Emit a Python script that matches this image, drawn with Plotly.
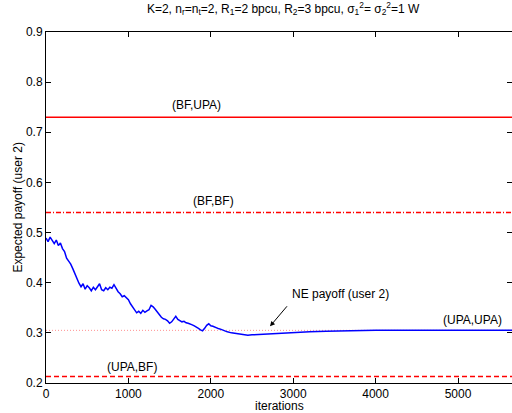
import plotly.graph_objects as go

iterations = [0, 25, 50, 75, 100, 125, 150, 175, 200, 225, 250, 275, 300, 325, 350, 375, 400, 425, 450, 475,
              500, 525, 550, 575, 600, 625, 650, 675, 700, 725, 750, 775, 800, 825, 850, 875, 900, 925, 950, 975,
              1000, 1025, 1050, 1075, 1100, 1125, 1150, 1175, 1200, 1225, 1250, 1275, 1300, 1325, 1350, 1375,
              1400, 1425, 1450, 1475, 1500, 1525, 1550, 1575, 1600, 1625, 1650, 1675, 1700, 1725, 1750, 1775,
              1800, 1825, 1850, 1875, 1900, 1925, 1950, 1975, 2000, 2025, 2050, 2075, 2100, 2125, 2150, 2175,
              2200, 2250, 2300, 2350, 2400, 2450, 2500, 2600, 2700, 2800, 2900, 3000, 3200, 3400, 3600, 3800,
              4000, 4500, 5000, 5700]
payoff_user2 = [0.489, 0.482, 0.491, 0.484, 0.478, 0.485, 0.474, 0.479, 0.468, 0.462, 0.449, 0.443, 0.437, 0.428,
                0.418, 0.410, 0.399, 0.392, 0.398, 0.387, 0.394, 0.390, 0.384, 0.391, 0.386, 0.392, 0.398, 0.386,
                0.384, 0.390, 0.386, 0.391, 0.389, 0.396, 0.388, 0.382, 0.378, 0.372, 0.374, 0.369, 0.366, 0.358,
                0.352, 0.346, 0.340, 0.343, 0.339, 0.345, 0.341, 0.344, 0.346, 0.355, 0.352, 0.347, 0.341, 0.336,
                0.331, 0.328, 0.327, 0.324, 0.319, 0.322, 0.328, 0.333, 0.327, 0.325, 0.322, 0.323, 0.320, 0.319,
                0.318, 0.316, 0.314, 0.312, 0.309, 0.306, 0.304, 0.309, 0.315, 0.318, 0.314, 0.313, 0.311, 0.310,
                0.308, 0.307, 0.305, 0.303, 0.302, 0.300, 0.299, 0.297, 0.296, 0.295, 0.296, 0.297, 0.298, 0.299,
                0.300, 0.301, 0.302, 0.303, 0.304, 0.304, 0.305, 0.305, 0.305, 0.305]

ne_payoff = 0.305
bf_upa = 0.73
bf_bf = 0.54
upa_bf = 0.213

x_range = [0, 5655]
y_range = [0.2, 0.9]
x_ticks = [0, 1000, 2000, 3000, 4000, 5000]
y_ticks = [0.2, 0.3, 0.4, 0.5, 0.6, 0.7, 0.8, 0.9]

FONT = "Liberation Sans, Arial, sans-serif"

fig = go.Figure()
xr = [x_range[0], 5700]
fig.add_trace(go.Scatter(x=xr, y=[bf_upa, bf_upa], mode="lines",
                         line=dict(color="#ff0000", width=1.3), hoverinfo="skip"))
fig.add_trace(go.Scatter(x=xr, y=[bf_bf, bf_bf], mode="lines",
                         line=dict(color="#ff0000", width=1.3, dash="5px,2px,1px,2px"), hoverinfo="skip"))
fig.add_trace(go.Scatter(x=xr, y=[upa_bf, upa_bf], mode="lines",
                         line=dict(color="#ff0000", width=1.3, dash="5px,3px"), hoverinfo="skip"))
fig.add_trace(go.Scatter(x=xr, y=[ne_payoff, ne_payoff], mode="lines",
                         line=dict(color="#ff9090", width=1, dash="1px,2px"), hoverinfo="skip"))
fig.add_trace(go.Scatter(x=iterations, y=payoff_user2, mode="lines",
                         line=dict(color="#0000ff", width=1.5), hoverinfo="skip"))

ann_font = dict(family=FONT, size=12, color="black")
fig.add_annotation(x=1830, y=0.754, text="(BF,UPA)", showarrow=False, font=ann_font)
fig.add_annotation(x=2030, y=0.562, text="(BF,BF)", showarrow=False, font=ann_font)
fig.add_annotation(x=1040, y=0.232, text="(UPA,BF)", showarrow=False, font=ann_font)
fig.add_annotation(x=5170, y=0.326, text="(UPA,UPA)", showarrow=False, font=ann_font)
fig.add_annotation(x=3570, y=0.377, text="NE payoff (user 2)", showarrow=False, font=ann_font)
fig.add_annotation(x=2718, y=0.313, ax=2940, ay=0.356, axref="x", ayref="y", text="",
                   showarrow=True, arrowhead=2, arrowsize=1, arrowwidth=1, arrowcolor="black")
# axis titles
fig.add_annotation(xref="paper", yref="paper", x=0.5, y=-0.041, yanchor="top", text="iterations",
                   showarrow=False, font=ann_font)
fig.add_annotation(xref="paper", yref="paper", x=-0.062, y=0.5, xanchor="center", text="Expected payoff (user 2)",
                   textangle=-90, showarrow=False, font=ann_font)

axis_common = dict(showline=True, linecolor="black", linewidth=1, mirror="ticks", ticks="inside",
                   ticklen=5, tickcolor="black", showgrid=False, zeroline=False, automargin=False,
                   tickfont=dict(family=FONT, size=12, color="black"))

fig.update_layout(
    width=512, height=413, showlegend=False,
    paper_bgcolor="white", plot_bgcolor="white",
    margin=dict(l=46, r=0, t=32, b=30, autoexpand=False),
    title=dict(text="K=2, n<sub>r</sub>=n<sub>t</sub>=2, R<sub>1</sub>=2 bpcu, R<sub>2</sub>=3 bpcu, "
                    "σ<sub>1</sub><sup>2</sup>= σ<sub>2</sub><sup>2</sup>=1 W",
               x=0.553, xanchor="center", y=0.99, yanchor="top",
               font=dict(family=FONT, size=12, color="black")),
    xaxis=dict(range=x_range, tickvals=x_ticks, ticktext=[str(v) for v in x_ticks], **axis_common),
    yaxis=dict(range=y_range, tickvals=y_ticks, ticktext=[f"{v:.1f}" for v in y_ticks], **axis_common),
)

fig.write_html("out.html", config={"displayModeBar": False},
               post_script="document.body.style.margin='0px';document.body.style.overflow='hidden';")
